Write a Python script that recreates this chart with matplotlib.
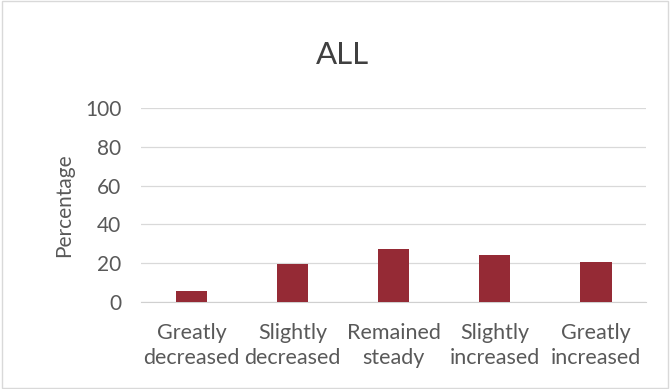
import matplotlib.pyplot as plt
from matplotlib.patches import Rectangle

categories = ["Greatly\ndecreased", "Slightly\ndecreased", "Remained\nsteady",
              "Slightly\nincreased", "Greatly\nincreased"]
percentages = [5.7, 19.5, 27.2, 24.1, 20.6]
yticks = [0, 20, 40, 60, 80, 100]

plt.rcParams['font.family'] = ['Lato', 'DejaVu Sans']
text_gray = '#595959'

fig = plt.figure(figsize=(6.7, 3.89), dpi=100)
ax = fig.add_axes([0.2104, 0.2237, 0.7545, 0.4987])

x = range(len(categories))
ax.bar(x, percentages, width=0.31, color='#952a35', zorder=3)

ax.set_xlim(-0.5, len(categories) - 0.5)
ax.set_ylim(0, 100)
ax.set_yticks(yticks)
ax.set_xticks(list(x))
ax.set_xticklabels(categories, fontsize=15.5, color=text_gray, linespacing=1.3)
ax.tick_params(axis='y', length=0, pad=14, labelsize=15, labelcolor=text_gray)
ax.tick_params(axis='x', length=0, pad=15)
ax.grid(axis='y', color='#d9d9d9', linewidth=0.9, zorder=0)
for s in ['top', 'right', 'left']:
    ax.spines[s].set_visible(False)
ax.spines['bottom'].set_color('#d0d0d0')

ax.set_ylabel("Percentage", fontsize=15, color=text_gray, labelpad=8)
fig.text(0.511, 0.859, "ALL", fontsize=22.5, color='#404040', ha='center', va='center')

# thin frame around the whole chart
fig.patches.append(Rectangle((0.003, 0.003), 0.994, 0.994, transform=fig.transFigure,
                             fill=False, edgecolor='#d9d9d9', linewidth=1))

fig.savefig('out.png', dpi=100)
